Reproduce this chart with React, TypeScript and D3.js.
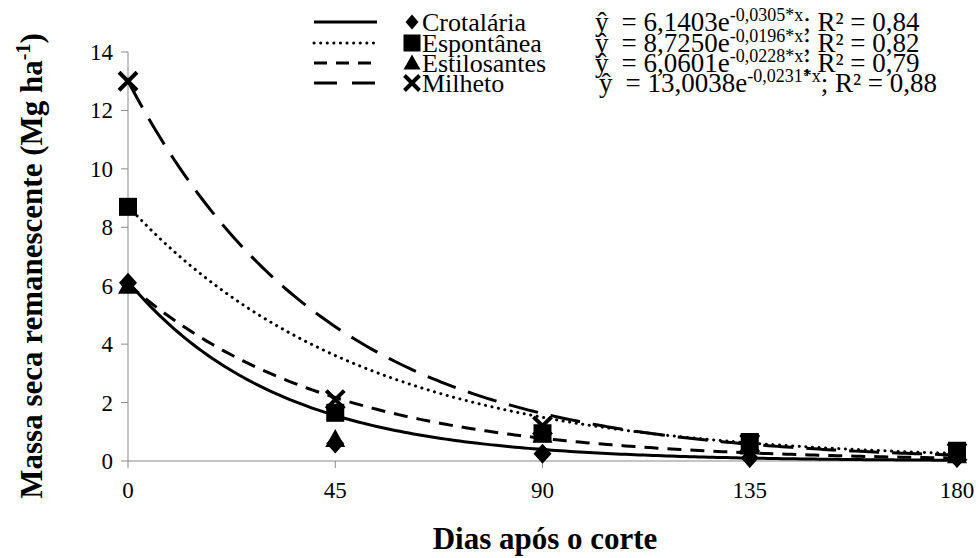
import * as d3 from "d3";
import { useEffect, useRef } from "react";

const days = [0, 45, 90, 135, 180];
const seriesNames = ["Crotalária", "Espontânea", "Estilosantes", "Milheto"];
const crotalaria = [6.1, 0.6, 0.25, 0.1, 0.1];
const espontanea = [8.7, 1.65, 0.95, 0.65, 0.35];
const estilosantes = [6.0, 0.75, 0.9, 0.5, 0.2];
const milheto = [13.0, 2.1, 1.2, 0.6, 0.3];
const coefA = [6.1403, 8.725, 6.0601, 13.0038];
const coefB = [-0.0305, -0.0196, -0.0228, -0.0231];
const coefText = ["6,1403", "8,7250", "6,0601", "13,0038"];
const expText = ["-0,0305*x", "-0,0196*x", "-0,0228*x", "-0,0231*x"];
const r2Text = ["0,84", "0,82", "0,79", "0,88"];
const yTicks = [0, 2, 4, 6, 8, 10, 12, 14];

const FONT = "Liberation Serif, Times New Roman, serif";

export default function App() {
  const ref = useRef<SVGSVGElement>(null);

  useEffect(() => {
    document.body.style.margin = "0";
    if (!ref.current) return;
    const svg = d3.select(ref.current);
    svg.selectAll("*").remove();

    svg.attr("width", 979).attr("height", 558).attr("font-family", FONT);

    const x = d3.scaleLinear().domain([0, 180]).range([128, 957]);
    const y = d3.scaleLinear().domain([0, 14]).range([461, 52]);

    const values = [crotalaria, espontanea, estilosantes, milheto];
    const dashes = ["none", "0.1 6.5", "14 9", "30 13"];

    // axes
    const axisColor = "#898989";
    svg.append("line")
      .attr("x1", x(0)).attr("x2", x(180)).attr("y1", y(0)).attr("y2", y(0))
      .attr("stroke", axisColor);
    svg.append("line")
      .attr("x1", x(0)).attr("x2", x(0)).attr("y1", y(0)).attr("y2", y(14))
      .attr("stroke", axisColor);

    svg.selectAll(".ytick")
      .data(yTicks)
      .join("line")
      .attr("x1", x(0) - 7).attr("x2", x(0))
      .attr("y1", (d) => y(d)).attr("y2", (d) => y(d))
      .attr("stroke", axisColor);
    svg.selectAll(".ylab")
      .data(yTicks)
      .join("text")
      .attr("x", x(0) - 15)
      .attr("y", (d) => y(d))
      .attr("dy", "0.35em")
      .attr("text-anchor", "end")
      .style("font-size", "23px")
      .text((d) => d);

    svg.selectAll(".xtick")
      .data(days)
      .join("line")
      .attr("x1", (d) => x(d)).attr("x2", (d) => x(d))
      .attr("y1", y(0)).attr("y2", y(0) + 7)
      .attr("stroke", axisColor);
    svg.selectAll(".xlab")
      .data(days)
      .join("text")
      .attr("x", (d) => x(d))
      .attr("y", y(0) + 37)
      .attr("text-anchor", "middle")
      .style("font-size", "23px")
      .text((d) => d);

    // axis titles
    svg.append("text")
      .attr("x", 545).attr("y", 549)
      .attr("text-anchor", "middle")
      .style("font-size", "31px")
      .style("font-weight", "bold")
      .text("Dias após o corte");

    const yt = svg.append("text")
      .attr("transform", "translate(42,266) rotate(-90)")
      .attr("text-anchor", "middle")
      .style("font-size", "31px")
      .style("font-weight", "bold");
    yt.append("tspan").text("Massa seca remanescente (Mg ha");
    yt.append("tspan").attr("dy", -12).style("font-size", "20px").text("-1");
    yt.append("tspan").attr("dy", 12).text(")");

    // trend curves from fitted equations
    const xs = d3.range(0, 180.5, 1);
    values.forEach((_, k) => {
      const ln = d3.line<number>()
        .x((d) => x(d))
        .y((d) => y(coefA[k] * Math.exp(coefB[k] * d)));
      svg.append("path")
        .attr("d", ln(xs))
        .attr("fill", "none")
        .attr("stroke", "#000")
        .attr("stroke-width", 3)
        .attr("stroke-linecap", k === 1 ? "round" : "butt")
        .attr("stroke-dasharray", dashes[k]);
    });

    // markers
    const drawMarker = (g: d3.Selection<any, any, any, any>, k: number, cx: number, cy: number, s: number) => {
      if (k === 0) {
        g.append("path")
          .attr("d", `M${cx},${cy - s / 2}L${cx + s / 2 - 1},${cy}L${cx},${cy + s / 2}L${cx - s / 2 + 1},${cy}Z`)
          .attr("fill", "#000");
      } else if (k === 1) {
        g.append("rect")
          .attr("x", cx - s / 2).attr("y", cy - s / 2)
          .attr("width", s).attr("height", s)
          .attr("fill", "#000");
      } else if (k === 2) {
        g.append("path")
          .attr("d", `M${cx},${cy - s / 2}L${cx + s / 2},${cy + s / 2 - 2}L${cx - s / 2},${cy + s / 2 - 2}Z`)
          .attr("fill", "#000");
      } else {
        const h = s / 2 - 1;
        g.append("path")
          .attr("d", `M${cx - h},${cy - h}L${cx + h},${cy + h}M${cx + h},${cy - h}L${cx - h},${cy + h}`)
          .attr("stroke", "#000")
          .attr("stroke-width", 4);
      }
    };

    const mg = svg.append("g");
    values.forEach((vals, k) => {
      vals.forEach((v, i) => drawMarker(mg, k, x(days[i]), y(v), k === 1 ? 18 : 20));
    });

    // legend
    const rowY = [22, 43, 63, 83];
    const lg = svg.append("g");
    seriesNames.forEach((name, k) => {
      lg.append("line")
        .attr("x1", 314).attr("x2", 377)
        .attr("y1", rowY[k]).attr("y2", rowY[k])
        .attr("stroke", "#000")
        .attr("stroke-width", 3)
        .attr("stroke-linecap", k === 1 ? "round" : "butt")
        .attr("stroke-dasharray", k === 1 ? "0.1 6.5" : k === 2 ? "13 9" : k === 3 ? "23 15" : "none");
      drawMarker(lg, k, 412, rowY[k], k === 0 ? 15 : 17);
      lg.append("text")
        .attr("x", 422).attr("y", rowY[k])
        .attr("dy", "0.33em")
        .style("font-size", "26px")
        .text(name);

      const eq = lg.append("text")
        .attr("x", k === 3 ? 599 : 595).attr("y", rowY[k])
        .attr("dy", "0.33em")
        .style("font-size", "27px");
      eq.append("tspan").text("ŷ");
      eq.append("tspan").attr("dx", 13).text(`= ${coefText[k]}e`);
      eq.append("tspan").attr("dy", -10).style("font-size", "18px").text(expText[k]);
      eq.append("tspan").attr("dy", 10).text("; R² = " + r2Text[k]);
    });
  }, []);

  return <svg ref={ref} />;
}
